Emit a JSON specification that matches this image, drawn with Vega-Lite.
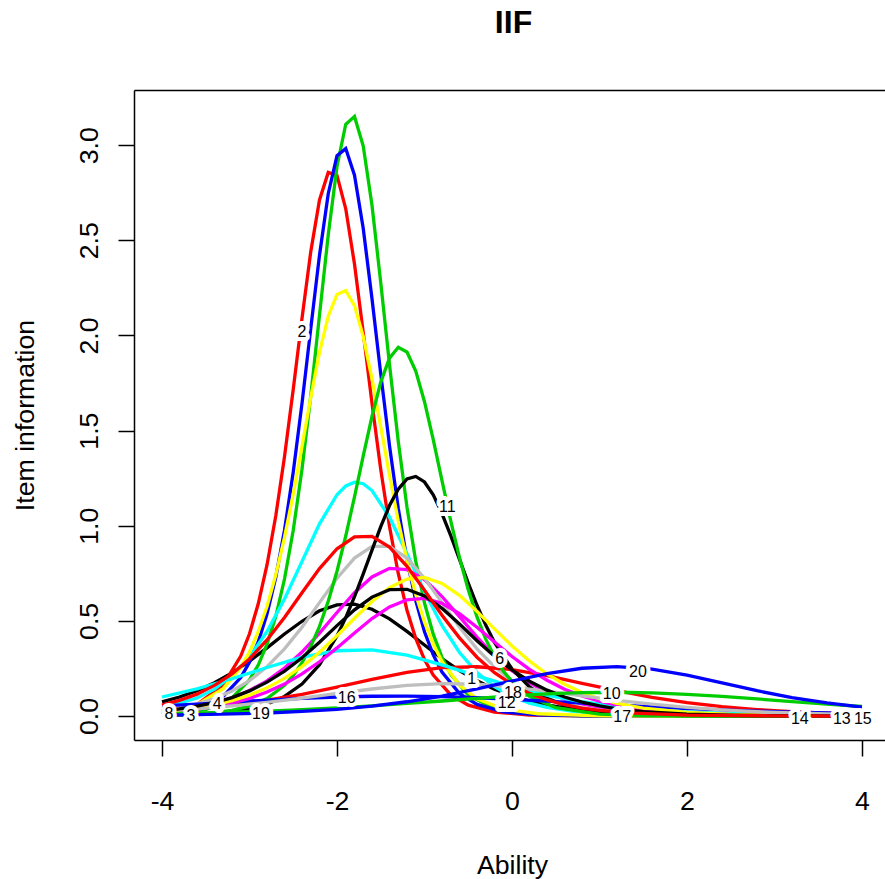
{
"$schema": "https://vega.github.io/schema/vega-lite/v6.json",
"width": 751, "height": 650,
"autosize": {"type": "none"},
"padding": {"left": 134, "top": 90, "right": 0, "bottom": 139},
"background": "white",
"config": {"view": {"stroke": null}, "font": "Liberation Sans"},
"title": {"text": "IIF", "fontSize": 32, "fontWeight": "bold", "font": "Liberation Sans", "color": "black", "anchor": "middle", "frame": "group", "baseline": "alphabetic", "offset": 25, "dx": 4},
"datasets": {
"curves": [
{"i":1,"x":-4,"y":0.074},{"i":1,"x":-3.8,"y":0.1},{"i":1,"x":-3.6,"y":0.133},{"i":1,"x":-3.4,"y":0.175},{"i":1,"x":-3.2,"y":0.227},{"i":1,"x":-3,"y":0.289},{"i":1,"x":-2.8,"y":0.358},{"i":1,"x":-2.6,"y":0.431},{"i":1,"x":-2.4,"y":0.498},{"i":1,"x":-2.2,"y":0.553},{"i":1,"x":-2,"y":0.584},{"i":1,"x":-1.8,"y":0.588},{"i":1,"x":-1.6,"y":0.561},{"i":1,"x":-1.4,"y":0.511},{"i":1,"x":-1.2,"y":0.445},{"i":1,"x":-1,"y":0.373},{"i":1,"x":-0.8,"y":0.302},{"i":1,"x":-0.6,"y":0.239},{"i":1,"x":-0.4,"y":0.185},{"i":1,"x":-0.2,"y":0.141},{"i":1,"x":0,"y":0.106},{"i":1,"x":0.2,"y":0.079},{"i":1,"x":0.4,"y":0.058},{"i":1,"x":0.6,"y":0.043},{"i":1,"x":0.8,"y":0.032},{"i":1,"x":1,"y":0.023},{"i":1,"x":1.5,"y":0.011},{"i":1,"x":2,"y":0.005},{"i":1,"x":3,"y":0.001},{"i":1,"x":4,"y":0},
{"i":2,"x":-4,"y":0.016},{"i":2,"x":-3.6,"y":0.06},{"i":2,"x":-3.3,"y":0.164},{"i":2,"x":-3.1,"y":0.315},{"i":2,"x":-3,"y":0.432},{"i":2,"x":-2.9,"y":0.59},{"i":2,"x":-2.8,"y":0.794},{"i":2,"x":-2.7,"y":1.051},{"i":2,"x":-2.6,"y":1.362},{"i":2,"x":-2.5,"y":1.717},{"i":2,"x":-2.4,"y":2.09},{"i":2,"x":-2.3,"y":2.44},{"i":2,"x":-2.2,"y":2.712},{"i":2,"x":-2.1,"y":2.857},{"i":2,"x":-2,"y":2.841},{"i":2,"x":-1.9,"y":2.666},{"i":2,"x":-1.8,"y":2.375},{"i":2,"x":-1.7,"y":2.015},{"i":2,"x":-1.6,"y":1.643},{"i":2,"x":-1.5,"y":1.296},{"i":2,"x":-1.4,"y":0.996},{"i":2,"x":-1.3,"y":0.749},{"i":2,"x":-1.2,"y":0.556},{"i":2,"x":-1.1,"y":0.408},{"i":2,"x":-1,"y":0.296},{"i":2,"x":-0.9,"y":0.215},{"i":2,"x":-0.7,"y":0.111},{"i":2,"x":-0.5,"y":0.057},{"i":2,"x":-0.2,"y":0.021},{"i":2,"x":0.2,"y":0.005},{"i":2,"x":1,"y":0},{"i":2,"x":2,"y":0},{"i":2,"x":3,"y":0},{"i":2,"x":4,"y":0},
{"i":3,"x":-4,"y":0.006},{"i":3,"x":-3.5,"y":0.033},{"i":3,"x":-3.2,"y":0.095},{"i":3,"x":-3,"y":0.19},{"i":3,"x":-2.9,"y":0.268},{"i":3,"x":-2.8,"y":0.378},{"i":3,"x":-2.7,"y":0.523},{"i":3,"x":-2.6,"y":0.72},{"i":3,"x":-2.5,"y":0.976},{"i":3,"x":-2.4,"y":1.297},{"i":3,"x":-2.3,"y":1.682},{"i":3,"x":-2.2,"y":2.107},{"i":3,"x":-2.1,"y":2.529},{"i":3,"x":-2,"y":2.888},{"i":3,"x":-1.9,"y":3.11},{"i":3,"x":-1.8,"y":3.151},{"i":3,"x":-1.7,"y":2.995},{"i":3,"x":-1.6,"y":2.684},{"i":3,"x":-1.5,"y":2.278},{"i":3,"x":-1.4,"y":1.848},{"i":3,"x":-1.3,"y":1.444},{"i":3,"x":-1.2,"y":1.097},{"i":3,"x":-1.1,"y":0.814},{"i":3,"x":-1,"y":0.594},{"i":3,"x":-0.9,"y":0.43},{"i":3,"x":-0.8,"y":0.308},{"i":3,"x":-0.7,"y":0.219},{"i":3,"x":-0.5,"y":0.11},{"i":3,"x":-0.2,"y":0.038},{"i":3,"x":0,"y":0.019},{"i":3,"x":0.5,"y":0.003},{"i":3,"x":1,"y":0.001},{"i":3,"x":2,"y":0},{"i":3,"x":3,"y":0},{"i":3,"x":4,"y":0},
{"i":4,"x":-4,"y":0.009},{"i":4,"x":-3.6,"y":0.037},{"i":4,"x":-3.3,"y":0.103},{"i":4,"x":-3.1,"y":0.202},{"i":4,"x":-3,"y":0.283},{"i":4,"x":-2.9,"y":0.389},{"i":4,"x":-2.8,"y":0.536},{"i":4,"x":-2.7,"y":0.729},{"i":4,"x":-2.6,"y":0.976},{"i":4,"x":-2.5,"y":1.283},{"i":4,"x":-2.4,"y":1.643},{"i":4,"x":-2.3,"y":2.036},{"i":4,"x":-2.2,"y":2.422},{"i":4,"x":-2.1,"y":2.745},{"i":4,"x":-2,"y":2.945},{"i":4,"x":-1.9,"y":2.982},{"i":4,"x":-1.8,"y":2.842},{"i":4,"x":-1.7,"y":2.562},{"i":4,"x":-1.6,"y":2.193},{"i":4,"x":-1.5,"y":1.798},{"i":4,"x":-1.4,"y":1.421},{"i":4,"x":-1.3,"y":1.092},{"i":4,"x":-1.2,"y":0.82},{"i":4,"x":-1.1,"y":0.607},{"i":4,"x":-1,"y":0.443},{"i":4,"x":-0.9,"y":0.321},{"i":4,"x":-0.8,"y":0.231},{"i":4,"x":-0.6,"y":0.118},{"i":4,"x":-0.4,"y":0.061},{"i":4,"x":-0.1,"y":0.022},{"i":4,"x":0.3,"y":0.006},{"i":4,"x":1,"y":0},{"i":4,"x":2,"y":0},{"i":4,"x":3,"y":0},{"i":4,"x":4,"y":0},
{"i":5,"x":-4,"y":0.041},{"i":5,"x":-3.6,"y":0.095},{"i":5,"x":-3.4,"y":0.141},{"i":5,"x":-3.2,"y":0.212},{"i":5,"x":-3,"y":0.311},{"i":5,"x":-2.8,"y":0.444},{"i":5,"x":-2.6,"y":0.615},{"i":5,"x":-2.4,"y":0.812},{"i":5,"x":-2.2,"y":1.01},{"i":5,"x":-2,"y":1.163},{"i":5,"x":-1.9,"y":1.209},{"i":5,"x":-1.8,"y":1.229},{"i":5,"x":-1.7,"y":1.221},{"i":5,"x":-1.6,"y":1.185},{"i":5,"x":-1.4,"y":1.045},{"i":5,"x":-1.2,"y":0.853},{"i":5,"x":-1,"y":0.653},{"i":5,"x":-0.8,"y":0.476},{"i":5,"x":-0.6,"y":0.334},{"i":5,"x":-0.4,"y":0.229},{"i":5,"x":-0.2,"y":0.154},{"i":5,"x":0,"y":0.102},{"i":5,"x":0.2,"y":0.068},{"i":5,"x":0.4,"y":0.045},{"i":5,"x":0.7,"y":0.024},{"i":5,"x":1,"y":0.012},{"i":5,"x":1.5,"y":0.004},{"i":5,"x":2,"y":0.001},{"i":5,"x":3,"y":0},{"i":5,"x":4,"y":0},
{"i":6,"x":-4,"y":0.023},{"i":6,"x":-3.8,"y":0.034},{"i":6,"x":-3.6,"y":0.048},{"i":6,"x":-3.4,"y":0.068},{"i":6,"x":-3.2,"y":0.095},{"i":6,"x":-3,"y":0.134},{"i":6,"x":-2.8,"y":0.185},{"i":6,"x":-2.6,"y":0.252},{"i":6,"x":-2.4,"y":0.336},{"i":6,"x":-2.2,"y":0.436},{"i":6,"x":-2,"y":0.544},{"i":6,"x":-1.8,"y":0.648},{"i":6,"x":-1.6,"y":0.731},{"i":6,"x":-1.4,"y":0.776},{"i":6,"x":-1.2,"y":0.77},{"i":6,"x":-1,"y":0.717},{"i":6,"x":-0.8,"y":0.628},{"i":6,"x":-0.6,"y":0.522},{"i":6,"x":-0.4,"y":0.415},{"i":6,"x":-0.2,"y":0.318},{"i":6,"x":0,"y":0.238},{"i":6,"x":0.2,"y":0.174},{"i":6,"x":0.4,"y":0.126},{"i":6,"x":0.6,"y":0.089},{"i":6,"x":0.8,"y":0.064},{"i":6,"x":1,"y":0.045},{"i":6,"x":1.4,"y":0.022},{"i":6,"x":2,"y":0.007},{"i":6,"x":3,"y":0.001},{"i":6,"x":4,"y":0},
{"i":7,"x":-4,"y":0.019},{"i":7,"x":-3.6,"y":0.06},{"i":7,"x":-3.3,"y":0.144},{"i":7,"x":-3.1,"y":0.256},{"i":7,"x":-3,"y":0.337},{"i":7,"x":-2.9,"y":0.443},{"i":7,"x":-2.8,"y":0.576},{"i":7,"x":-2.7,"y":0.741},{"i":7,"x":-2.6,"y":0.939},{"i":7,"x":-2.5,"y":1.167},{"i":7,"x":-2.4,"y":1.417},{"i":7,"x":-2.3,"y":1.674},{"i":7,"x":-2.2,"y":1.911},{"i":7,"x":-2.1,"y":2.101},{"i":7,"x":-2,"y":2.215},{"i":7,"x":-1.9,"y":2.236},{"i":7,"x":-1.8,"y":2.157},{"i":7,"x":-1.7,"y":1.994},{"i":7,"x":-1.6,"y":1.772},{"i":7,"x":-1.5,"y":1.52},{"i":7,"x":-1.4,"y":1.265},{"i":7,"x":-1.3,"y":1.026},{"i":7,"x":-1.2,"y":0.816},{"i":7,"x":-1.1,"y":0.638},{"i":7,"x":-1,"y":0.493},{"i":7,"x":-0.9,"y":0.378},{"i":7,"x":-0.8,"y":0.286},{"i":7,"x":-0.6,"y":0.162},{"i":7,"x":-0.4,"y":0.091},{"i":7,"x":-0.1,"y":0.037},{"i":7,"x":0.3,"y":0.012},{"i":7,"x":1,"y":0.001},{"i":7,"x":2,"y":0},{"i":7,"x":3,"y":0},{"i":7,"x":4,"y":0},
{"i":8,"x":-4,"y":0.031},{"i":8,"x":-3.8,"y":0.044},{"i":8,"x":-3.6,"y":0.064},{"i":8,"x":-3.4,"y":0.092},{"i":8,"x":-3.2,"y":0.132},{"i":8,"x":-3,"y":0.186},{"i":8,"x":-2.8,"y":0.259},{"i":8,"x":-2.6,"y":0.353},{"i":8,"x":-2.4,"y":0.467},{"i":8,"x":-2.2,"y":0.596},{"i":8,"x":-2,"y":0.724},{"i":8,"x":-1.8,"y":0.83},{"i":8,"x":-1.6,"y":0.892},{"i":8,"x":-1.4,"y":0.892},{"i":8,"x":-1.2,"y":0.83},{"i":8,"x":-1,"y":0.724},{"i":8,"x":-0.8,"y":0.596},{"i":8,"x":-0.6,"y":0.467},{"i":8,"x":-0.4,"y":0.353},{"i":8,"x":-0.2,"y":0.259},{"i":8,"x":0,"y":0.186},{"i":8,"x":0.2,"y":0.132},{"i":8,"x":0.4,"y":0.092},{"i":8,"x":0.6,"y":0.064},{"i":8,"x":0.8,"y":0.044},{"i":8,"x":1,"y":0.031},{"i":8,"x":1.4,"y":0.014},{"i":8,"x":2,"y":0.005},{"i":8,"x":3,"y":0.001},{"i":8,"x":4,"y":0},
{"i":9,"x":-4,"y":0.003},{"i":9,"x":-3.6,"y":0.008},{"i":9,"x":-3.2,"y":0.022},{"i":9,"x":-3,"y":0.037},{"i":9,"x":-2.8,"y":0.062},{"i":9,"x":-2.6,"y":0.103},{"i":9,"x":-2.4,"y":0.168},{"i":9,"x":-2.2,"y":0.27},{"i":9,"x":-2,"y":0.421},{"i":9,"x":-1.9,"y":0.517},{"i":9,"x":-1.8,"y":0.627},{"i":9,"x":-1.7,"y":0.747},{"i":9,"x":-1.6,"y":0.872},{"i":9,"x":-1.5,"y":0.995},{"i":9,"x":-1.4,"y":1.106},{"i":9,"x":-1.3,"y":1.192},{"i":9,"x":-1.2,"y":1.246},{"i":9,"x":-1.1,"y":1.259},{"i":9,"x":-1,"y":1.23},{"i":9,"x":-0.9,"y":1.162},{"i":9,"x":-0.8,"y":1.064},{"i":9,"x":-0.7,"y":0.948},{"i":9,"x":-0.6,"y":0.823},{"i":9,"x":-0.5,"y":0.699},{"i":9,"x":-0.4,"y":0.582},{"i":9,"x":-0.3,"y":0.478},{"i":9,"x":-0.2,"y":0.387},{"i":9,"x":0,"y":0.247},{"i":9,"x":0.2,"y":0.153},{"i":9,"x":0.4,"y":0.093},{"i":9,"x":0.6,"y":0.056},{"i":9,"x":0.8,"y":0.034},{"i":9,"x":1,"y":0.02},{"i":9,"x":1.5,"y":0.006},{"i":9,"x":2,"y":0.002},{"i":9,"x":3,"y":0},{"i":9,"x":4,"y":0},
{"i":10,"x":-4,"y":0.028},{"i":10,"x":-3.6,"y":0.041},{"i":10,"x":-3.2,"y":0.059},{"i":10,"x":-2.8,"y":0.083},{"i":10,"x":-2.4,"y":0.114},{"i":10,"x":-2,"y":0.152},{"i":10,"x":-1.6,"y":0.193},{"i":10,"x":-1.2,"y":0.229},{"i":10,"x":-0.8,"y":0.254},{"i":10,"x":-0.4,"y":0.259},{"i":10,"x":0,"y":0.244},{"i":10,"x":0.4,"y":0.212},{"i":10,"x":0.8,"y":0.172},{"i":10,"x":1.2,"y":0.133},{"i":10,"x":1.6,"y":0.098},{"i":10,"x":2,"y":0.07},{"i":10,"x":2.4,"y":0.049},{"i":10,"x":2.8,"y":0.034},{"i":10,"x":3.2,"y":0.023},{"i":10,"x":3.6,"y":0.015},{"i":10,"x":4,"y":0.01},
{"i":11,"x":-4,"y":0.003},{"i":11,"x":-3.5,"y":0.012},{"i":11,"x":-3.2,"y":0.03},{"i":11,"x":-3,"y":0.052},{"i":11,"x":-2.8,"y":0.092},{"i":11,"x":-2.6,"y":0.161},{"i":11,"x":-2.5,"y":0.213},{"i":11,"x":-2.4,"y":0.28},{"i":11,"x":-2.3,"y":0.365},{"i":11,"x":-2.2,"y":0.471},{"i":11,"x":-2.1,"y":0.603},{"i":11,"x":-2,"y":0.761},{"i":11,"x":-1.9,"y":0.946},{"i":11,"x":-1.8,"y":1.152},{"i":11,"x":-1.7,"y":1.367},{"i":11,"x":-1.6,"y":1.575},{"i":11,"x":-1.5,"y":1.755},{"i":11,"x":-1.4,"y":1.881},{"i":11,"x":-1.3,"y":1.938},{"i":11,"x":-1.2,"y":1.913},{"i":11,"x":-1.1,"y":1.813},{"i":11,"x":-1,"y":1.652},{"i":11,"x":-0.9,"y":1.452},{"i":11,"x":-0.8,"y":1.237},{"i":11,"x":-0.7,"y":1.026},{"i":11,"x":-0.6,"y":0.833},{"i":11,"x":-0.5,"y":0.663},{"i":11,"x":-0.4,"y":0.521},{"i":11,"x":-0.3,"y":0.404},{"i":11,"x":-0.2,"y":0.312},{"i":11,"x":-0.1,"y":0.237},{"i":11,"x":0,"y":0.181},{"i":11,"x":0.2,"y":0.104},{"i":11,"x":0.5,"y":0.044},{"i":11,"x":1,"y":0.01},{"i":11,"x":1.5,"y":0.002},{"i":11,"x":2,"y":0},{"i":11,"x":3,"y":0},{"i":11,"x":4,"y":0},
{"i":12,"x":-4,"y":0.053},{"i":12,"x":-3.6,"y":0.063},{"i":12,"x":-3.2,"y":0.073},{"i":12,"x":-2.8,"y":0.084},{"i":12,"x":-2.4,"y":0.093},{"i":12,"x":-2,"y":0.1},{"i":12,"x":-1.6,"y":0.104},{"i":12,"x":-1.2,"y":0.105},{"i":12,"x":-0.8,"y":0.102},{"i":12,"x":-0.4,"y":0.096},{"i":12,"x":0,"y":0.088},{"i":12,"x":0.4,"y":0.078},{"i":12,"x":0.8,"y":0.068},{"i":12,"x":1.2,"y":0.058},{"i":12,"x":1.6,"y":0.048},{"i":12,"x":2,"y":0.039},{"i":12,"x":2.4,"y":0.032},{"i":12,"x":2.8,"y":0.026},{"i":12,"x":3.2,"y":0.02},{"i":12,"x":3.6,"y":0.016},{"i":12,"x":4,"y":0.013},
{"i":13,"x":-4,"y":0.1},{"i":13,"x":-3.6,"y":0.143},{"i":13,"x":-3.2,"y":0.196},{"i":13,"x":-2.8,"y":0.255},{"i":13,"x":-2.4,"y":0.309},{"i":13,"x":-2,"y":0.343},{"i":13,"x":-1.6,"y":0.348},{"i":13,"x":-1.2,"y":0.32},{"i":13,"x":-0.8,"y":0.269},{"i":13,"x":-0.4,"y":0.211},{"i":13,"x":0,"y":0.156},{"i":13,"x":0.4,"y":0.11},{"i":13,"x":0.8,"y":0.075},{"i":13,"x":1.2,"y":0.051},{"i":13,"x":1.6,"y":0.034},{"i":13,"x":2,"y":0.022},{"i":13,"x":2.5,"y":0.013},{"i":13,"x":3,"y":0.008},{"i":13,"x":3.5,"y":0.004},{"i":13,"x":4,"y":0.003},
{"i":14,"x":-4,"y":0.019},{"i":14,"x":-3.8,"y":0.026},{"i":14,"x":-3.6,"y":0.036},{"i":14,"x":-3.4,"y":0.05},{"i":14,"x":-3.2,"y":0.069},{"i":14,"x":-3,"y":0.093},{"i":14,"x":-2.8,"y":0.126},{"i":14,"x":-2.6,"y":0.168},{"i":14,"x":-2.4,"y":0.221},{"i":14,"x":-2.2,"y":0.285},{"i":14,"x":-2,"y":0.358},{"i":14,"x":-1.8,"y":0.436},{"i":14,"x":-1.6,"y":0.512},{"i":14,"x":-1.4,"y":0.573},{"i":14,"x":-1.2,"y":0.611},{"i":14,"x":-1,"y":0.618},{"i":14,"x":-0.8,"y":0.592},{"i":14,"x":-0.6,"y":0.538},{"i":14,"x":-0.4,"y":0.467},{"i":14,"x":-0.2,"y":0.389},{"i":14,"x":0,"y":0.313},{"i":14,"x":0.2,"y":0.245},{"i":14,"x":0.4,"y":0.188},{"i":14,"x":0.6,"y":0.141},{"i":14,"x":0.8,"y":0.106},{"i":14,"x":1,"y":0.078},{"i":14,"x":1.2,"y":0.057},{"i":14,"x":1.5,"y":0.035},{"i":14,"x":2,"y":0.016},{"i":14,"x":2.5,"y":0.007},{"i":14,"x":3,"y":0.003},{"i":14,"x":4,"y":0.001},
{"i":15,"x":-4,"y":0.023},{"i":15,"x":-3.8,"y":0.031},{"i":15,"x":-3.6,"y":0.043},{"i":15,"x":-3.4,"y":0.059},{"i":15,"x":-3.2,"y":0.081},{"i":15,"x":-3,"y":0.11},{"i":15,"x":-2.8,"y":0.148},{"i":15,"x":-2.6,"y":0.198},{"i":15,"x":-2.4,"y":0.26},{"i":15,"x":-2.2,"y":0.335},{"i":15,"x":-2,"y":0.422},{"i":15,"x":-1.8,"y":0.514},{"i":15,"x":-1.6,"y":0.602},{"i":15,"x":-1.4,"y":0.675},{"i":15,"x":-1.2,"y":0.72},{"i":15,"x":-1,"y":0.728},{"i":15,"x":-0.8,"y":0.697},{"i":15,"x":-0.6,"y":0.634},{"i":15,"x":-0.4,"y":0.55},{"i":15,"x":-0.2,"y":0.458},{"i":15,"x":0,"y":0.368},{"i":15,"x":0.2,"y":0.289},{"i":15,"x":0.4,"y":0.221},{"i":15,"x":0.6,"y":0.167},{"i":15,"x":0.8,"y":0.124},{"i":15,"x":1,"y":0.091},{"i":15,"x":1.2,"y":0.067},{"i":15,"x":1.5,"y":0.042},{"i":15,"x":2,"y":0.019},{"i":15,"x":2.5,"y":0.008},{"i":15,"x":3,"y":0.004},{"i":15,"x":4,"y":0.001},
{"i":16,"x":-4,"y":0.027},{"i":16,"x":-3.6,"y":0.038},{"i":16,"x":-3.2,"y":0.053},{"i":16,"x":-2.8,"y":0.072},{"i":16,"x":-2.4,"y":0.094},{"i":16,"x":-2,"y":0.119},{"i":16,"x":-1.6,"y":0.142},{"i":16,"x":-1.2,"y":0.161},{"i":16,"x":-0.8,"y":0.17},{"i":16,"x":-0.4,"y":0.167},{"i":16,"x":0,"y":0.152},{"i":16,"x":0.4,"y":0.131},{"i":16,"x":0.8,"y":0.106},{"i":16,"x":1.2,"y":0.082},{"i":16,"x":1.6,"y":0.062},{"i":16,"x":2,"y":0.045},{"i":16,"x":2.4,"y":0.032},{"i":16,"x":2.8,"y":0.023},{"i":16,"x":3.2,"y":0.016},{"i":16,"x":3.6,"y":0.011},{"i":16,"x":4,"y":0.008},
{"i":17,"x":-4,"y":0.026},{"i":17,"x":-3.8,"y":0.037},{"i":17,"x":-3.6,"y":0.052},{"i":17,"x":-3.4,"y":0.07},{"i":17,"x":-3.2,"y":0.097},{"i":17,"x":-3,"y":0.132},{"i":17,"x":-2.8,"y":0.178},{"i":17,"x":-2.6,"y":0.236},{"i":17,"x":-2.4,"y":0.306},{"i":17,"x":-2.2,"y":0.388},{"i":17,"x":-2,"y":0.475},{"i":17,"x":-1.8,"y":0.558},{"i":17,"x":-1.6,"y":0.625},{"i":17,"x":-1.4,"y":0.664},{"i":17,"x":-1.2,"y":0.666},{"i":17,"x":-1,"y":0.631},{"i":17,"x":-0.8,"y":0.566},{"i":17,"x":-0.6,"y":0.484},{"i":17,"x":-0.4,"y":0.396},{"i":17,"x":-0.2,"y":0.314},{"i":17,"x":0,"y":0.242},{"i":17,"x":0.2,"y":0.183},{"i":17,"x":0.4,"y":0.136},{"i":17,"x":0.6,"y":0.1},{"i":17,"x":0.8,"y":0.073},{"i":17,"x":1,"y":0.053},{"i":17,"x":1.2,"y":0.038},{"i":17,"x":1.5,"y":0.023},{"i":17,"x":2,"y":0.01},{"i":17,"x":2.5,"y":0.004},{"i":17,"x":3,"y":0.002},{"i":17,"x":4,"y":0},
{"i":18,"x":-4,"y":0.058},{"i":18,"x":-3.8,"y":0.082},{"i":18,"x":-3.6,"y":0.115},{"i":18,"x":-3.4,"y":0.161},{"i":18,"x":-3.2,"y":0.221},{"i":18,"x":-3,"y":0.3},{"i":18,"x":-2.8,"y":0.4},{"i":18,"x":-2.6,"y":0.518},{"i":18,"x":-2.4,"y":0.648},{"i":18,"x":-2.2,"y":0.775},{"i":18,"x":-2,"y":0.879},{"i":18,"x":-1.8,"y":0.941},{"i":18,"x":-1.6,"y":0.944},{"i":18,"x":-1.4,"y":0.888},{"i":18,"x":-1.2,"y":0.787},{"i":18,"x":-1,"y":0.661},{"i":18,"x":-0.8,"y":0.53},{"i":18,"x":-0.6,"y":0.411},{"i":18,"x":-0.4,"y":0.309},{"i":18,"x":-0.2,"y":0.228},{"i":18,"x":0,"y":0.166},{"i":18,"x":0.2,"y":0.119},{"i":18,"x":0.4,"y":0.085},{"i":18,"x":0.6,"y":0.06},{"i":18,"x":0.8,"y":0.042},{"i":18,"x":1,"y":0.03},{"i":18,"x":1.4,"y":0.015},{"i":18,"x":2,"y":0.005},{"i":18,"x":3,"y":0.001},{"i":18,"x":4,"y":0},
{"i":19,"x":-4,"y":0.012},{"i":19,"x":-3.6,"y":0.015},{"i":19,"x":-3.2,"y":0.02},{"i":19,"x":-2.8,"y":0.026},{"i":19,"x":-2.4,"y":0.033},{"i":19,"x":-2,"y":0.043},{"i":19,"x":-1.6,"y":0.053},{"i":19,"x":-1.2,"y":0.066},{"i":19,"x":-0.8,"y":0.079},{"i":19,"x":-0.4,"y":0.093},{"i":19,"x":0,"y":0.106},{"i":19,"x":0.4,"y":0.116},{"i":19,"x":0.8,"y":0.123},{"i":19,"x":1.2,"y":0.125},{"i":19,"x":1.6,"y":0.122},{"i":19,"x":2,"y":0.114},{"i":19,"x":2.4,"y":0.103},{"i":19,"x":2.8,"y":0.09},{"i":19,"x":3.2,"y":0.076},{"i":19,"x":3.6,"y":0.062},{"i":19,"x":4,"y":0.05},
{"i":20,"x":-4,"y":0.005},{"i":20,"x":-3.6,"y":0.007},{"i":20,"x":-3.2,"y":0.011},{"i":20,"x":-2.8,"y":0.016},{"i":20,"x":-2.4,"y":0.024},{"i":20,"x":-2,"y":0.035},{"i":20,"x":-1.6,"y":0.052},{"i":20,"x":-1.2,"y":0.075},{"i":20,"x":-0.8,"y":0.105},{"i":20,"x":-0.4,"y":0.143},{"i":20,"x":0,"y":0.184},{"i":20,"x":0.4,"y":0.223},{"i":20,"x":0.8,"y":0.251},{"i":20,"x":1.2,"y":0.26},{"i":20,"x":1.6,"y":0.246},{"i":20,"x":2,"y":0.215},{"i":20,"x":2.4,"y":0.174},{"i":20,"x":2.8,"y":0.133},{"i":20,"x":3.2,"y":0.097},{"i":20,"x":3.6,"y":0.069},{"i":20,"x":4,"y":0.047}
],
"labels": [
{"lab":"1","x":-0.46,"y":0.195},{"lab":"2","x":-2.4,"y":2.02},{"lab":"3","x":-3.67,"y":0.0},{"lab":"4","x":-3.37,"y":0.063},{"lab":"6","x":-0.14,"y":0.3},{"lab":"8","x":-3.92,"y":0.01},{"lab":"10","x":1.14,"y":0.116},{"lab":"11","x":-0.74,"y":1.1},{"lab":"12","x":-0.06,"y":0.068},{"lab":"13","x":3.77,"y":-0.016},{"lab":"14","x":3.29,"y":-0.016},{"lab":"15","x":4.01,"y":-0.016},{"lab":"16","x":-1.89,"y":0.095},{"lab":"17","x":1.26,"y":-0.005},{"lab":"18","x":0.01,"y":0.12},{"lab":"19","x":-2.87,"y":0.01},{"lab":"20","x":1.44,"y":0.23}
]
},
"resolve": {"axis": {"x": "independent", "y": "independent"}},
"layer": [
{"data": {"name": "curves"},
 "mark": {"type": "line", "strokeWidth": 3.3, "clip": true},
 "encoding": {
  "x": {"field": "x", "type": "quantitative", "scale": {"domain": [-4.32, 4.263], "nice": false, "zero": false},
   "axis": {"orient": "bottom", "values": [-4, -2, 0, 2, 4], "labelExpr": "datum.value", "grid": false, "title": "Ability",
    "titleFontSize": 26.7, "titleFontWeight": "normal", "titleColor": "black", "titleFont": "Liberation Sans", "titleBaseline": "alphabetic", "titleAlign": "center", "titleX": 378, "titleY": 133,
    "labelFontSize": 26.7, "labelColor": "black", "labelFont": "Liberation Sans", "labelBaseline": "alphabetic", "labelPadding": 53, "labelFlush": false, "labelOverlap": false,
    "tickSize": 16, "tickColor": "black", "tickWidth": 1.5, "domainColor": "black", "domainWidth": 1.5}},
  "y": {"field": "y", "type": "quantitative", "scale": {"domain": [-0.126, 3.29], "nice": false, "zero": false},
   "axis": {"orient": "left", "values": [0, 0.5, 1, 1.5, 2, 2.5, 3], "format": ".1f", "grid": false, "title": "Item information",
    "titleFontSize": 26.7, "titleFontWeight": "normal", "titleColor": "black", "titleFont": "Liberation Sans", "titleBaseline": "alphabetic", "titleAlign": "center", "titleAngle": -90, "titleX": -101, "titleY": 325,
    "labelFontSize": 26.7, "labelColor": "black", "labelFont": "Liberation Sans", "labelAngle": -90, "labelAlign": "center", "labelBaseline": "alphabetic", "labelPadding": 21, "labelFlush": false, "labelOverlap": false,
    "tickSize": 16, "tickColor": "black", "tickWidth": 1.5, "domainColor": "black", "domainWidth": 1.5}},
  "color": {"field": "i", "type": "nominal", "legend": null,
   "scale": {"domain": [1,2,3,4,5,6,7,8,9,10,11,12,13,14,15,16,17,18,19,20],
    "range": ["#000000","#FF0000","#00CD00","#0000FF","#00FFFF","#FF00FF","#FFFF00","#BEBEBE","#000000","#FF0000","#00CD00","#0000FF","#00FFFF","#FF00FF","#FFFF00","#BEBEBE","#000000","#FF0000","#00CD00","#0000FF"]}}
 }},
{"data": {"name": "labels"},
 "mark": {"type": "text", "fontSize": 16, "font": "Liberation Sans", "align": "center", "baseline": "middle", "fill": "white", "stroke": "white", "strokeWidth": 8, "strokeJoin": "round"},
 "encoding": {
  "x": {"field": "x", "type": "quantitative", "axis": {"orient": "top", "labels": false, "ticks": false, "title": null, "grid": false, "domain": true, "domainColor": "black", "domainWidth": 1.5}},
  "y": {"field": "y", "type": "quantitative", "axis": null},
  "text": {"field": "lab"}
 }},
{"data": {"name": "labels"},
 "mark": {"type": "text", "fontSize": 16, "font": "Liberation Sans", "align": "center", "baseline": "middle", "fill": "black"},
 "encoding": {
  "x": {"field": "x", "type": "quantitative", "axis": null},
  "y": {"field": "y", "type": "quantitative", "axis": null},
  "text": {"field": "lab"}
 }}
]
}
